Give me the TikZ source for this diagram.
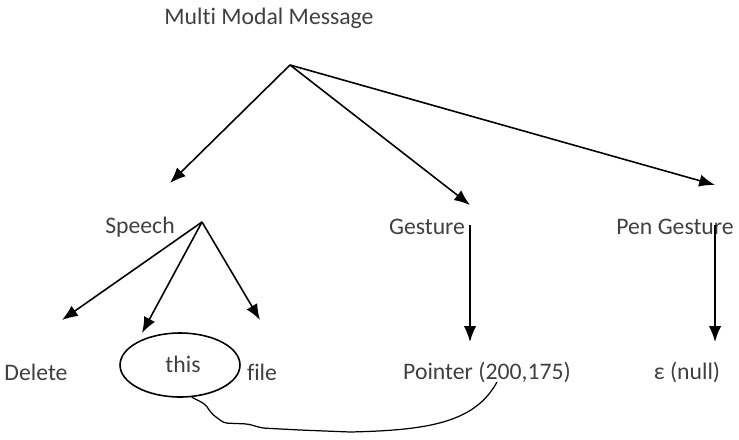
\documentclass[tikz,border=0pt]{standalone}
\usepackage{fontspec}
\setmainfont{Carlito}[Ligatures=NoCommon]
\usetikzlibrary{arrows.meta,shapes.geometric}

\begin{document}
\begin{tikzpicture}[
    x=0.02cm, y=-0.02cm,
    font=\fontsize{13.5}{16}\selectfont,
    line width=0.9pt,
    word/.style={inner sep=1pt, text=black!75},     % the leaves and labels
    branch/.style={-{Latex[length=9pt,width=7pt]}},  % the tree arrows
 ]
    \useasboundingbox (0,0) rectangle (739,439);
    % ~~~ texts ~~~~~~~~~~~~~~~~~~~~~~~~~~~~~~~~~~~~~~
    \node[word] (msg)     at (269, 18) {Multi Modal Message};
    \node[word] (speech)  at (140,227) {Speech};
    \node[word] (gesture) at (427,227) {Gesture};
    \node[word] (pen)     at (675,227) {Pen Gesture};
    \node[word] (delete)  at ( 36,372) {Delete};
    \node[word] (this)    at (183,364) {this};
    \node[word] (file)    at (262,372) {file};
    \node[word] (pointer) at (487,372) {Pointer (200,175)};
    \node[word] (null)    at (687,372) {ε (null)};
    % ~~~ the ring round "this" ~~~~~~~~~~~~~~~~~~~~~~
    \node[draw, ellipse, minimum width=2.4cm, minimum height=1.28cm,
          inner sep=0pt] (ring) at (180,365) {};
    % ~~~ fork points and arrow ends ~~~~~~~~~~~~~~~~~
    \coordinate (root)  at (290, 65);
    \coordinate (fork)  at (202,222);
    \coordinate (gtop)  at (470,225);
    \coordinate (ptop)  at (715,225);
    \foreach \n/\p in {sp/{170,183}, ge/{470,205}, pg/{715,185},
                       de/{62,320},  th/{142,333}, fi/{260,320},
                       po/{470,342}, nu/{715,342}}
        \coordinate (\n) at (\p);
    % ~~~ the tree ~~~~~~~~~~~~~~~~~~~~~~~~~~~~~~~~~~~
    \foreach \a/\b in {root/sp, root/ge, root/pg,
                       fork/de, fork/th, fork/fi,
                       gtop/po, ptop/nu}
        \draw[branch] (\a) -- (\b);
    % ~~~ the hand drawn link "this" -> pointer ~~~~~~~
    \coordinate (link) at (497,382);
    \draw[line width=0.7pt, rounded corners=2pt]
        (ring.-70) -- (205,404) -- (212,414) -- (224,423) -- (248,424)
        -- (262,428) -- (300,430) -- (350,432)
        .. controls (430,430) and (475,422) .. (link);
\end{tikzpicture}
\end{document}
